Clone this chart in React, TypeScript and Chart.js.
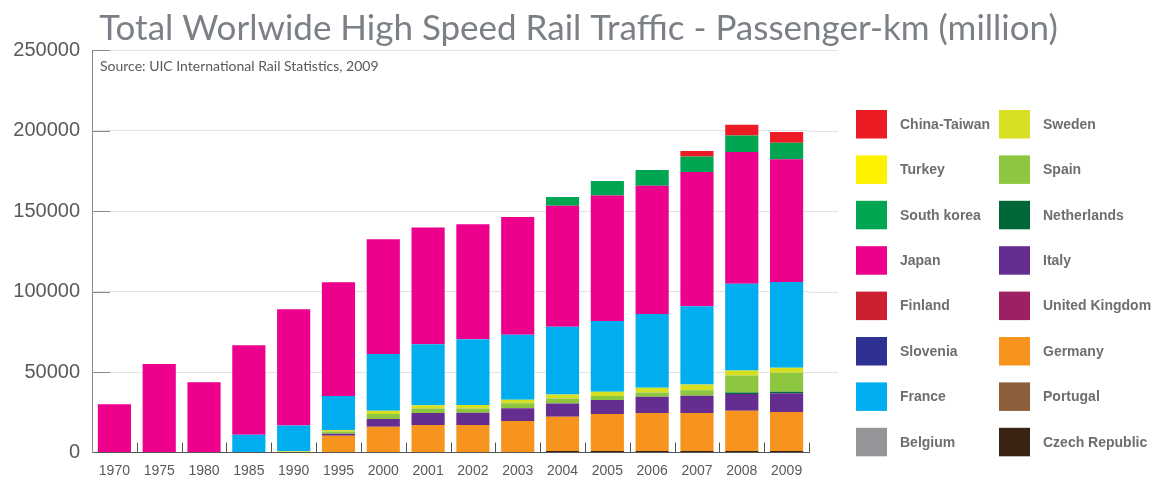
import React, { useEffect, useRef } from "react";
import { Chart, registerables } from "chart.js";

Chart.register(...registerables);

const years = ["1970", "1975", "1980", "1985", "1990", "1995", "2000", "2001", "2002", "2003", "2004", "2005", "2006", "2007", "2008", "2009"];

const czechRepublic = [0, 0, 0, 0, 0, 0, 0, 0, 0, 0, 1000, 1000, 1000, 1000, 1000, 1000];
const portugal = [0, 0, 0, 0, 0, 0, 0, 0, 0, 0, 0, 0, 0, 0, 0, 0];
const germany = [0, 0, 0, 0, 0, 10400, 16000, 17100, 17100, 19600, 21200, 22900, 23500, 23500, 25000, 24200];
const unitedKingdom = [0, 0, 0, 0, 0, 0, 0, 0, 0, 0, 0, 0, 0, 0, 0, 0];
const italy = [0, 0, 0, 0, 0, 1300, 4800, 7400, 7600, 7900, 8300, 8700, 10100, 10700, 10400, 11600];
const netherlands = [0, 0, 0, 0, 0, 0, 0, 0, 0, 0, 0, 0, 0, 0, 800, 1000];
const spain = [0, 0, 0, 0, 0, 1300, 3100, 2900, 2700, 3100, 3100, 2500, 2600, 3500, 10600, 11800];
const sweden = [0, 0, 0, 0, 800, 1000, 2100, 2000, 2100, 2100, 2500, 2700, 3000, 3500, 3100, 3100];
const belgium = [0, 0, 0, 0, 0, 0, 0, 0, 0, 0, 0, 0, 0, 0, 0, 0];
const france = [0, 0, 0, 11100, 15900, 21100, 35200, 37900, 40800, 40400, 42000, 43900, 45800, 48600, 53900, 53200];
const slovenia = [0, 0, 0, 0, 0, 0, 0, 0, 0, 0, 0, 0, 0, 0, 0, 0];
const finland = [0, 0, 0, 0, 0, 0, 0, 0, 0, 0, 0, 0, 0, 0, 0, 0];
const japan = [29900, 55000, 43600, 55500, 72300, 70600, 71200, 72500, 71400, 73100, 75200, 77900, 79700, 83400, 81800, 76200];
const southKorea = [0, 0, 0, 0, 0, 0, 0, 0, 0, 0, 5400, 9000, 9800, 9700, 10300, 10300];
const turkey = [0, 0, 0, 0, 0, 0, 0, 0, 0, 0, 0, 0, 0, 0, 0, 0];
const chinaTaiwan = [0, 0, 0, 0, 0, 0, 0, 0, 0, 0, 0, 0, 0, 3300, 6600, 6600];

const yTickStep = 50000;
const yMax = 250000;

const titleText = "Total Worlwide High Speed Rail Traffic - Passenger-km (million)";
const sourceText = "Source: UIC International Rail Statistics, 2009";

// stacked bottom -> top
const seriesList = [
  { label: "Czech Republic", data: czechRepublic, color: "#3c2415" },
  { label: "Portugal", data: portugal, color: "#8b5e3c" },
  { label: "Germany", data: germany, color: "#f7941d" },
  { label: "United Kingdom", data: unitedKingdom, color: "#9e1f63" },
  { label: "Italy", data: italy, color: "#662d91" },
  { label: "Netherlands", data: netherlands, color: "#006838" },
  { label: "Spain", data: spain, color: "#8dc63f" },
  { label: "Sweden", data: sweden, color: "#d7df23" },
  { label: "Belgium", data: belgium, color: "#939598" },
  { label: "France", data: france, color: "#00aeef" },
  { label: "Slovenia", data: slovenia, color: "#2e3192" },
  { label: "Finland", data: finland, color: "#cc1f2f" },
  { label: "Japan", data: japan, color: "#ec008c" },
  { label: "South korea", data: southKorea, color: "#00a651" },
  { label: "Turkey", data: turkey, color: "#fff200" },
  { label: "China-Taiwan", data: chinaTaiwan, color: "#ed1c24" },
];

const legendOrder = [
  "China-Taiwan", "Turkey", "South korea", "Japan", "Finland", "Slovenia", "France", "Belgium",
  "Sweden", "Spain", "Netherlands", "Italy", "United Kingdom", "Germany", "Portugal", "Czech Republic",
];

const decorPlugin = {
  id: "decor",
  beforeDatasetsDraw(chart: any) {
    const { ctx, chartArea: a, scales } = chart;
    const x = scales.x;
    const y = scales.y;
    ctx.save();
    ctx.lineWidth = 1;
    // grid extension to the right
    ctx.strokeStyle = "#e2e2e2";
    y.ticks.forEach((t: any) => {
      if (t.value <= 0) return;
      const py = Math.round(y.getPixelForValue(t.value)) + 0.5;
      ctx.beginPath();
      ctx.moveTo(a.right, py);
      ctx.lineTo(a.right + 29, py);
      ctx.stroke();
    });
    // inner y tick marks
    ctx.strokeStyle = "#8a8a8a";
    y.ticks.forEach((t: any) => {
      if (t.value <= 0) return;
      const py = Math.round(y.getPixelForValue(t.value)) + 0.5;
      ctx.beginPath();
      ctx.moveTo(a.left, py);
      ctx.lineTo(a.left + 18, py);
      ctx.stroke();
    });
    // inner x tick marks at category boundaries
    ctx.strokeStyle = "#555555";
    const n = chart.data.labels.length;
    for (let i = 1; i <= n; i++) {
      let px;
      if (i === n) px = a.right;
      else px = (x.getPixelForValue(i - 1) + x.getPixelForValue(i)) / 2;
      px = Math.round(px) + 0.5;
      ctx.beginPath();
      ctx.moveTo(px, a.bottom);
      ctx.lineTo(px, a.bottom - 10);
      ctx.stroke();
    }
    ctx.restore();
  },
  afterDraw(chart: any) {
    const { ctx, chartArea: a } = chart;
    ctx.save();
    // source note
    ctx.fillStyle = "#595959";
    ctx.font = "14px Lato";
    ctx.textBaseline = "middle";
    ctx.textAlign = "left";
    ctx.fillText(sourceText, a.left + 8, a.top + 16);
    // legend, two columns
    const datasets = chart.data.datasets;
    ctx.font = "bold 14px 'Liberation Sans'";
    legendOrder.forEach((name, idx) => {
      const ds = datasets.find((d: any) => d.label === name);
      if (!ds) return;
      const col = Math.floor(idx / 8);
      const row = idx % 8;
      const bx = a.right + 47 + col * 143;
      const by = 110 + row * 45.4;
      ctx.fillStyle = ds.backgroundColor;
      ctx.fillRect(bx, by, 31, 28.5);
      ctx.fillStyle = "#6d6e71";
      ctx.fillText(name, bx + 44, by + 15);
    });
    ctx.restore();
  },
};

export default function App() {
  const canvasRef = useRef<HTMLCanvasElement | null>(null);

  useEffect(() => {
    document.body.style.margin = "0";
    const canvas = canvasRef.current;
    if (!canvas) return;
    const chart = new Chart(canvas, {
      type: "bar",
      data: {
        labels: years,
        datasets: seriesList.map((s) => ({
          label: s.label,
          data: s.data,
          backgroundColor: s.color,
          borderWidth: 0,
          categoryPercentage: 1,
          barPercentage: 0.74,
        })),
      },
      options: {
        animation: false,
        responsive: false,
        layout: { padding: { left: 0, right: 0, top: 0, bottom: 0 } },
        plugins: {
          legend: { display: false },
          tooltip: { enabled: false },
          title: {
            display: true,
            text: titleText,
            color: "#7b7f86",
            font: { family: "Lato", size: 35, weight: "normal" },
            padding: { top: 8, bottom: 0 },
          },
        },
        scales: {
          x: {
            stacked: true,
            grid: { display: false, drawTicks: false },
            border: { display: true, color: "#555555", width: 1 },
            ticks: {
              color: "#595959",
              font: { family: "'Liberation Sans'", size: 14 },
              padding: 10,
              maxRotation: 0,
              autoSkip: false,
            },
            afterFit: (s: any) => { s.height = 29.5; },
          },
          y: {
            stacked: true,
            min: 0,
            max: yMax,
            grid: { color: "#e2e2e2", drawTicks: false },
            border: { display: true, color: "#8a8a8a", width: 1 },
            ticks: {
              stepSize: yTickStep,
              color: "#595959",
              font: { family: "'Liberation Sans'", size: 20 },
              padding: 12,
              callback: (v: any) => String(v),
            },
            afterFit: (s: any) => { s.width = 92; },
          },
          legendSpace: {
            type: "linear",
            position: "right",
            display: true,
            grid: { display: false, drawOnChartArea: false, drawTicks: false },
            border: { display: false },
            ticks: { display: false },
            afterFit: (s: any) => { s.width = 348; },
          },
        },
      },
      plugins: [decorPlugin],
    });
    return () => chart.destroy();
  }, []);

  return (
    <div style={{ width: 1157, height: 482, background: "#ffffff" }}>
      <canvas ref={canvasRef} width={1157} height={482} style={{ display: "block" }} />
    </div>
  );
}
